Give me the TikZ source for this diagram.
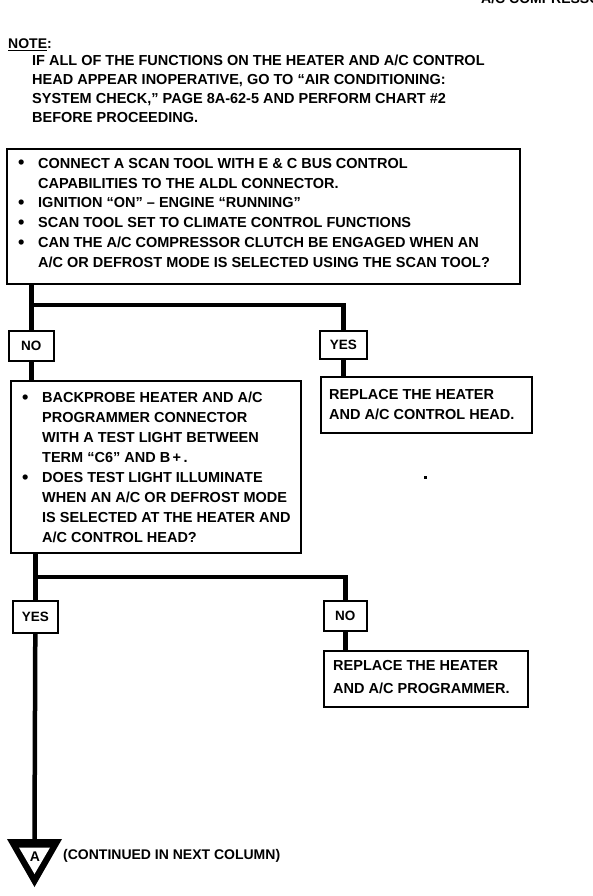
\documentclass[tikz,border=0pt]{standalone}
\usepackage{fontspec}
\setmainfont{Liberation Sans}[BoldFont={Liberation Sans Bold}]
\usetikzlibrary{calc}
\newcommand\bul{\llap{\makebox[20pt][l]{\raisebox{-0.5pt}{\scalebox{1.25}{\textbullet}}}}}
\tikzset{
  box/.style={draw, line width=1.6pt, fill=white},
  lbl/.style={draw, line width=1.6pt, fill=white, inner sep=0pt, font=\bfseries\fontsize{13.5}{15}\selectfont},
  conn/.style={line width=4.5pt},
  txt/.style={anchor=north west, inner sep=0pt, align=left, font=\bfseries\fontsize{14.5}{19.8}\selectfont},
}
\begin{document}
\begin{tikzpicture}[x=1pt,y=-1pt]
\useasboundingbox (0,0) rectangle (592,896);
\fill[white] (0,0) rectangle (592,896);
% cut-off header
\node[anchor=base west, inner sep=0pt, font=\bfseries\fontsize{14}{16}\selectfont] (hdr) at (481,4) {A/C COMPRESSOR};
% note
\node[txt, font=\bfseries\fontsize{14}{19}\selectfont] (notehd) at (8,39) {\underline{NOTE}:};
\node[txt, font=\bfseries\fontsize{14.5}{19}\selectfont] (note) at (32,55) {IF ALL OF THE FUNCTIONS ON THE HEATER AND A/C CONTROL\\HEAD APPEAR INOPERATIVE, GO TO ``AIR CONDITIONING:\\SYSTEM CHECK,'' PAGE 8A-62-5 AND PERFORM CHART \#2\\BEFORE PROCEEDING.};
% boxes
\node[box, anchor=north west, minimum width=513pt, minimum height=135pt, inner sep=0pt] (b1) at (6,148) {};
\node[txt] (t1) at (38,158) {\bul CONNECT A SCAN TOOL WITH E \& C BUS CONTROL\\CAPABILITIES TO THE ALDL CONNECTOR.\\\bul IGNITION ``ON'' -- ENGINE ``RUNNING''\\\bul SCAN TOOL SET TO CLIMATE CONTROL FUNCTIONS\\\bul CAN THE A/C COMPRESSOR CLUTCH BE ENGAGED WHEN AN\\A/C OR DEFROST MODE IS SELECTED USING THE SCAN TOOL?};
\node[lbl, anchor=north west, minimum width=45pt, minimum height=30pt] (n1) at (8,330) {NO};
\node[lbl, anchor=north west, minimum width=47pt, minimum height=28pt] (y1) at (319,330) {YES};
\node[box, anchor=north west, minimum width=290pt, minimum height=172pt, inner sep=0pt] (b2) at (10,380) {};
\node[txt, font=\bfseries\fontsize{14.5}{20}\selectfont] (t2) at (42,392) {\bul BACKPROBE HEATER AND A/C\\PROGRAMMER CONNECTOR\\WITH A TEST LIGHT BETWEEN\\TERM ``C6'' AND B\,+\,.\\\bul DOES TEST LIGHT ILLUMINATE\\WHEN AN A/C OR DEFROST MODE\\IS SELECTED AT THE HEATER AND\\A/C CONTROL HEAD?};
\node[box, anchor=north west, minimum width=211pt, minimum height=56pt, inner sep=0pt] (b3) at (320,376) {};
\node[txt, font=\bfseries\fontsize{14.5}{20}\selectfont] (t3) at (329,389.5) {REPLACE THE HEATER\\AND A/C CONTROL HEAD.};
\node[lbl, anchor=north west, minimum width=45pt, minimum height=32pt] (y2) at (12,600) {YES};
\node[lbl, anchor=north west, minimum width=43pt, minimum height=30pt] (n2) at (323,600) {NO};
\node[box, anchor=north west, minimum width=204pt, minimum height=56pt, inner sep=0pt] (b4) at (323,650) {};
\node[txt, font=\bfseries\fontsize{14.5}{23}\selectfont] (t4) at (333,660) {REPLACE THE HEATER\\AND A/C PROGRAMMER.};
% continuation marker
\coordinate (tri) at (34.5,839);
\fill (7,839) -- (62,839) -- (34.5,887) -- cycle;
\fill[white] (19,847.5) -- (50,847.5) -- (34.5,874) -- cycle;
\node[inner sep=0pt, font=\bfseries\fontsize{14}{15}\selectfont] (triA) at (35,857) {A};
\node[anchor=west, inner sep=0pt, font=\bfseries\fontsize{14}{15}\selectfont] (cont) at (63,856) {(CONTINUED IN NEXT COLUMN)};
% speck
\fill (424,476) rectangle (427,479);
% connectors
\coordinate (j1) at (30.5,305);
\coordinate (j2) at (34.5,577);
\draw[conn] (n1.north |- b1.south) -- (n1.north);
\draw[conn] (j1) -| (y1.north);
\draw[conn] (n1.south) -- (n1.south |- b2.north);
\draw[conn] (y1.south) -- (y1.south |- b3.north);
\draw[conn] (y2.north |- b2.south) -- (y2.north);
\draw[conn] (j2) -| (n2.north);
\draw[conn] (y2.south) -- (tri);
\draw[conn] (n2.south) -- (n2.south |- b4.north);
\end{tikzpicture}
\end{document}
